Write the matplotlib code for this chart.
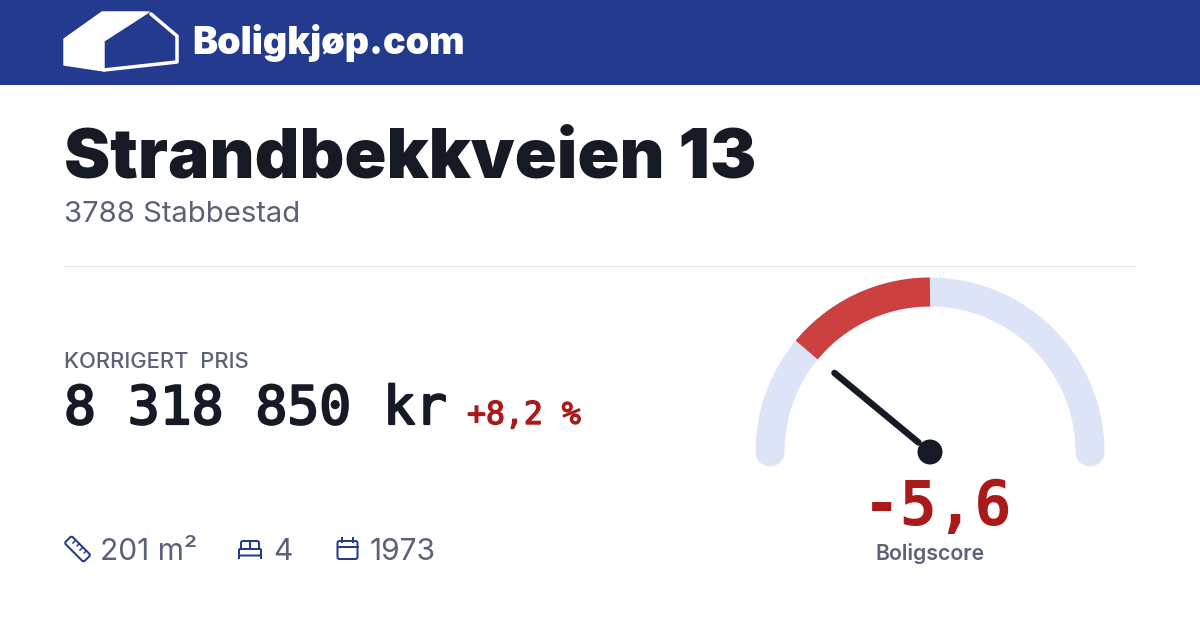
import numpy as np
import matplotlib
matplotlib.use('Agg')
import matplotlib.pyplot as plt
import matplotlib.patheffects as pe
from matplotlib.patches import Polygon, Circle, Rectangle, FancyBboxPatch

site = 'Boligkjøp.com'
address = 'Strandbekkveien 13'
place = '3788 Stabbestad'
price_label = 'KORRIGERT  PRIS'
price = '8 318 850 kr'
price_change = '+8,2 %'
score = -5.6
score_text = '-5,6'
score_label = 'Boligscore'
score_range = 10
facts = ['201 m²', '4', '1973']

BLUE = '#233a8f'
DARK = '#161a25'
GREY = '#5b6275'
TRACK = '#dee4f7'
ARC_RED = '#cc4040'
RED = '#ab1a1a'
SANS = ['Inter', 'DejaVu Sans']
MONO = ['DejaVu Sans Mono']

def px(v):
    # piksler til fontstørrelse/linjebredde ved dpi=100
    return v * 0.72

def thicker(color, w):
    # DejaVu Mono har bare regular og bold, så medium lages med en tynn strek
    return [pe.withStroke(linewidth=w, foreground=color)]

fig = plt.figure(figsize=(12, 6.3), dpi=100, facecolor='white')
ax = fig.add_axes([0, 0, 1, 1])
ax.set_xlim(0, 1200)
ax.set_ylim(630, 0)
ax.axis('off')

# topp
ax.add_patch(Rectangle((0, 0), 1200, 85, fc=BLUE, ec='none'))
ax.add_patch(Polygon([(64, 39), (102, 12), (149, 12), (104, 41), (104, 71), (64, 65)], fc='white', ec='white', lw=1, joinstyle='round'))
ax.plot([151, 177, 177, 104], [14, 36, 62, 70], color='white', lw=px(3.5), solid_joinstyle='round', solid_capstyle='round')
ax.text(192, 54, site, fontsize=px(37.6), fontweight='black', family=SANS, color='white', va='baseline')

# adresse
ax.text(64, 178, address, fontsize=px(69.4), fontweight='black', family=SANS, color=DARK, va='baseline')
ax.text(64, 222, place, fontsize=px(29.3), family=SANS, color=GREY, va='baseline')
ax.plot([64, 1136], [266, 266], color='#e5e7eb', lw=px(1))

# pris
ax.text(64, 368, price_label, fontsize=px(22), fontweight='medium', family=SANS, color=GREY, va='baseline')
ax.text(64, 424, price, fontsize=px(53), family=MONO, color=DARK, va='baseline', path_effects=thicker(DARK, 1.6))
ax.text(467, 424, price_change, fontsize=px(31.5), family=MONO, color=RED, va='baseline', path_effects=thicker(RED, 1.0))

# ikoner
ruler = plt.matplotlib.transforms.Affine2D().rotate_deg_around(77.5, 549, 45) + ax.transData
ax.add_patch(FancyBboxPatch((64, 544), 27, 10, boxstyle='round,pad=0,rounding_size=2', fc='none', ec=BLUE, lw=px(2), transform=ruler))
for dx, h in [(70, 4), (75, 3), (80, 4), (85, 3)]:
    ax.plot([dx, dx], [544, 544 + h], color=BLUE, lw=px(1.5), transform=ruler)
ax.add_patch(FancyBboxPatch((241, 541), 18, 9, boxstyle='round,pad=0,rounding_size=2', fc='none', ec=BLUE, lw=px(2)))
ax.add_patch(FancyBboxPatch((239, 549), 22, 6.5, boxstyle='round,pad=0,rounding_size=1', fc='white', ec=BLUE, lw=px(2)))
ax.plot([250, 250], [541, 549], color=BLUE, lw=px(2))
ax.plot([239, 239], [555, 558], color=BLUE, lw=px(2))
ax.plot([261, 261], [555, 558], color=BLUE, lw=px(2))
ax.add_patch(FancyBboxPatch((337.5, 541), 20, 18, boxstyle='round,pad=0,rounding_size=2', fc='none', ec=BLUE, lw=px(2)))
ax.plot([337.5, 357.5], [547, 547], color=BLUE, lw=px(2))
ax.plot([342, 342], [538, 542], color=BLUE, lw=px(2))
ax.plot([353, 353], [538, 542], color=BLUE, lw=px(2))

# fakta
for x, txt in zip([100, 273, 370], facts):
    ax.text(x, 560, txt, fontsize=px(30), family=SANS, color=GREY, va='baseline')

# måler: 0 er rett opp, +/- score_range er horisontalt
cx, cy, r = 930, 452, 160
def arc(a0, a1):
    t = np.radians(np.linspace(a0, a1, 200))
    return cx + r * np.sin(t), cy - r * np.cos(t)

score_angle = score / score_range * 90
ax.plot(*arc(-90, 90), color=TRACK, lw=px(29), solid_capstyle='round')
ax.plot(*arc(score_angle, 0), color=ARC_RED, lw=px(29), solid_capstyle='butt')
t = np.radians(score_angle)
ax.plot([cx + 15 * np.sin(t), cx + 124 * np.sin(t)], [cy - 15 * np.cos(t), cy - 124 * np.cos(t)],
        color=DARK, lw=px(6.5), solid_capstyle='round')
ax.add_patch(Circle((cx, cy), 12.5, fc=DARK, ec='none'))

ax.text(938, 525, score_text, fontsize=px(62), fontweight='bold', family=MONO, color=RED, ha='center', va='baseline')
ax.text(930.5, 560, score_label, fontsize=px(21.3), fontweight='semibold', family=SANS, color=GREY, ha='center', va='baseline')

fig.savefig('out.png', dpi=100)
